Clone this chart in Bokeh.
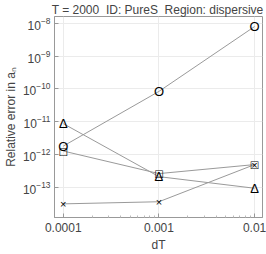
from bokeh.plotting import figure
from bokeh.models import ColumnDataSource, LogTickFormatter, FixedTicker, Range1d
from bokeh.core.properties import value
from bokeh.embed import file_html
from bokeh.resources import INLINE

dT = [0.0001, 0.001, 0.01]
circle_err = [1.8e-12, 8.4e-11, 8.0e-9]
triangle_err = [8.7e-12, 2.1e-13, 9.3e-14]
square_err = [1.27e-12, 2.6e-13, 4.9e-13]
cross_err = [3.1e-14, 3.6e-14, 4.9e-13]
x_ticks = [0.0001, 0.001, 0.01]
x_tick_labels = ["0.0001", "0.001", "0.01"]
y_ticks = [1e-13, 1e-12, 1e-11, 1e-10, 1e-9, 1e-8]

FONT = "Liberation Sans"
NB = "\u00a0"

p = figure(width=266, height=254, x_axis_type="log", y_axis_type="log",
           x_range=Range1d(8.09e-5, 1.21e-2), y_range=Range1d(1.19e-14, 1.62e-8),
           output_backend="svg", toolbar_location=None,
           min_border_left=50, min_border_right=4, min_border_top=15, min_border_bottom=34,
           title="T = 2000" + NB + NB + "ID: PureS" + NB + NB + "Region: dispersive")
p.title.text_font = FONT
p.title.text_font_size = "12px"
p.title.text_font_style = "normal"
p.title.align = "right"
p.title.standoff = 0
p.title.offset = -1

p.outline_line_color = "#999999"
p.outline_line_width = 1
p.background_fill_color = "white"
p.border_fill_color = "white"

p.xgrid.ticker = FixedTicker(ticks=x_ticks)
p.ygrid.ticker = FixedTicker(ticks=y_ticks)
p.grid.grid_line_color = "#ebebeb"
p.grid.grid_line_width = 1

for ax in (p.xaxis[0], p.yaxis[0]):
    ax.axis_line_color = "#999999"
    ax.major_tick_in = 4
    ax.major_tick_out = 0
    ax.minor_tick_in = 2
    ax.minor_tick_out = 0
    ax.major_tick_line_color = "#999999"
    ax.minor_tick_line_color = "#bbbbbb"
    ax.major_label_text_font = FONT
    ax.major_label_text_font_size = "12px"
    ax.axis_label_text_font = FONT
    ax.axis_label_text_font_size = "12px"
    ax.axis_label_text_font_style = "normal"

p.xaxis[0].ticker = FixedTicker(ticks=x_ticks, minor_ticks=[2e-4, 3e-4, 4e-4, 5e-4, 6e-4, 7e-4, 8e-4, 9e-4,
                                                           2e-3, 3e-3, 4e-3, 5e-3, 6e-3, 7e-3, 8e-3, 9e-3])
p.xaxis[0].major_label_overrides = {t: l for t, l in zip(x_ticks, x_tick_labels)}
p.xaxis[0].major_label_standoff = 5
p.xaxis[0].axis_label = "dT"
p.xaxis[0].axis_label_standoff = 3

p.yaxis[0].ticker = FixedTicker(ticks=y_ticks)
p.yaxis[0].formatter = LogTickFormatter()
p.yaxis[0].major_label_standoff = 4
p.yaxis[0].axis_label = "Relative error in a\u2099"
p.yaxis[0].axis_label_standoff = 2

line_color = "#9a9a9a"
series = [(circle_err, "O", "13px"), (triangle_err, "\u0394", "13px"),
          (square_err, "\u25a1", "10px"), (cross_err, "\u00d7", "11px")]
for vals, _, _ in series:
    p.line(dT, vals, line_color=line_color, line_width=1)
for vals, sym, size in series:
    src = ColumnDataSource(dict(x=dT, y=vals, t=[sym] * len(dT)))
    p.text("x", "y", text="t", source=src, text_align="center", text_baseline="middle",
           text_font=value("DejaVu Sans" if sym == "\u25a1" else FONT), text_font_size=size,
           text_color="black")

open("out.html", "w").write(file_html(p, INLINE))
